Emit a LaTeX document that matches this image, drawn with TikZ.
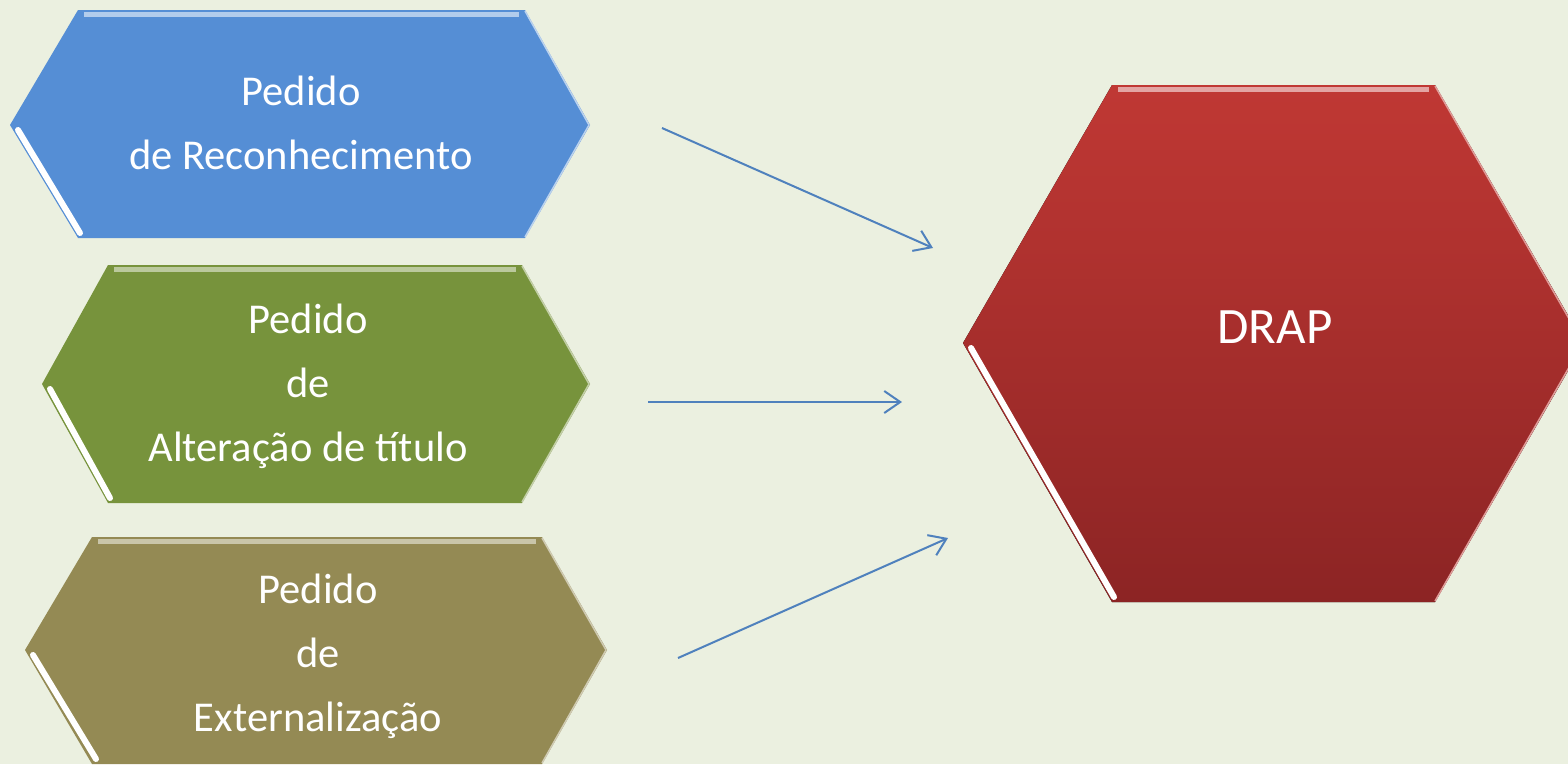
\documentclass[tikz,border=0pt]{standalone}
\usepackage{fontspec}
\setmainfont{Carlito}
\usepackage{tikz}
\usetikzlibrary{arrows.meta}
\usetikzlibrary{positioning}
\usepackage{color}
\definecolor{backgreen}{RGB}{235, 240, 224}
\definecolor{cornflower}{RGB}{85, 142, 213}
\definecolor{mossgreen}{RGB}{119, 147, 60}
\definecolor{khaki}{RGB}{148, 138, 84}
\definecolor{brickred}{RGB}{192, 56, 52}
\definecolor{darkbrick}{RGB}{140, 36, 36}
\definecolor{arrowblue}{RGB}{79, 129, 189}

\tikzset{
  hextext/.style={text=white, align=center, font=\fontsize{42.5}{64}\selectfont},
  bigtext/.style={text=white, font=\fontsize{51}{60}\selectfont},
  topshine/.style={line width=5pt, color=#1},
  sideshine/.style={line width=6pt, color=white, line cap=round},
  rimshine/.style={line width=1.5pt, color=#1},
  flow/.style={draw=arrowblue, line width=2pt, -{Straight Barb[length=16pt, width=22pt, line width=2pt]}}
}

\begin{document}
\begin{tikzpicture}[x=1pt, y=-1pt]
            % Background
            \fill[backgreen]                                                  (0, 0) rectangle (1568, 764);
            \useasboundingbox                                                 (0, 0) rectangle (1568, 764);
            % Pedido de Reconhecimento
            \fill[cornflower]     (10, 125) -- (78, 10) -- (525, 10) -- (590, 125) -- (525, 238) -- (78, 238) -- cycle;
            \draw[topshine=cornflower!45!white]                               (84, 14) -- (519, 14);
            \draw[sideshine]                                                  (18, 130) -- (80, 233);
            \draw[rimshine=cornflower!40!white]                               (525, 11) -- (589, 125) -- (525, 237);
            \node[hextext] (recnode) at (301, 122.5) {Pedido\\de Reconhecimento};
            % Pedido de Alteracao de titulo
            \fill[mossgreen]      (42, 384) -- (108, 265) -- (522, 265) -- (590, 384) -- (522, 503) -- (108, 503) -- cycle;
            \draw[topshine=mossgreen!50!white]                                (114, 269) -- (516, 269);
            \draw[sideshine]                                                  (50, 389) -- (110, 498);
            \draw[rimshine=mossgreen!45!white]                                (522, 266) -- (589, 384) -- (522, 502);
            \node[hextext] (altnode) at (308, 386.5) {Pedido\\de\\Alteração de título};
            % Pedido de Externalizacao
            \fill[khaki]          (25, 650) -- (92, 537) -- (542, 537) -- (607, 650) -- (542, 764) -- (92, 764) -- cycle;
            \draw[topshine=khaki!50!white]                                    (98, 541) -- (536, 541);
            \draw[sideshine]                                                  (33, 655) -- (96, 759);
            \draw[rimshine=khaki!45!white]                                    (542, 538) -- (606, 650) -- (542, 763);
            \node[hextext] (extnode) at (318, 656) {Pedido\\de\\Externalização};
            % DRAP
            \fill[top color=brickred, bottom color=darkbrick]
                                  (963, 343) -- (1112, 85) -- (1435, 85) -- (1584, 343) -- (1435, 602) -- (1112, 602) -- cycle;
            \draw[topshine=brickred!45!white]                                 (1118, 89) -- (1429, 89);
            \draw[sideshine]                                                  (971, 348) -- (1114, 597);
            \draw[rimshine=brickred!50!white]                                 (1435, 86) -- (1583, 343) -- (1435, 601);
            \node[bigtext] (drapnode) at (1275, 327) {DRAP};
            % Arrow ends
            \coordinate (recout)  at (662, 128);
            \coordinate (recin)   at (933, 248);
            \coordinate (altout)  at (648, 402);
            \coordinate (altin)   at (902, 402);
            \coordinate (extout)  at (678, 658);
            \coordinate (extin)   at (948, 538);
            \draw[flow] (recout) -- (recin);
            \draw[flow] (altout) -- (altin);
            \draw[flow] (extout) -- (extin);
        \end{tikzpicture}
\end{document}
